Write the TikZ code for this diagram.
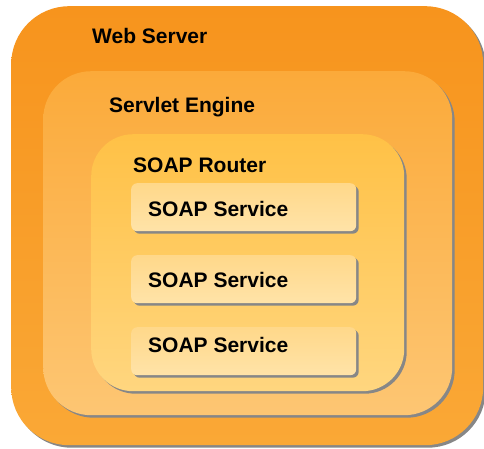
\documentclass[tikz,border=0pt]{standalone}
\usepackage{fontspec}
\setmainfont{Liberation Sans}
\usetikzlibrary{shadows}
\definecolor{webtop}{HTML}{F7941D}
\definecolor{webbot}{HTML}{FAA836}
\definecolor{enginetop}{HTML}{FBAA3A}
\definecolor{enginebot}{HTML}{FDC673}
\definecolor{routertop}{HTML}{FFC146}
\definecolor{routerbot}{HTML}{FFD67F}
\definecolor{servtop}{HTML}{FFD88A}
\definecolor{servbot}{HTML}{FFE3A8}
\definecolor{shadowgray}{HTML}{878787}
\tikzset{
  layer/.style={anchor=north west, inner sep=0pt,
    drop shadow={shadow xshift=2.5pt, shadow yshift=-2.5pt, fill=shadowgray, opacity=1}},
  title/.style={anchor=west, inner sep=0pt, font=\bfseries\fontsize{21}{25}\selectfont}
}
\begin{document}
\begin{tikzpicture}[x=1pt,y=-1pt]
	    \useasboundingbox (0,0) rectangle (484,448);
	    % nested layers
	    \node[layer, top color=webtop, bottom color=webbot, rounded corners=58pt,
	      minimum width=472pt, minimum height=439pt] (web) at (11,6) {};
	    \node[layer, top color=enginetop, bottom color=enginebot, rounded corners=48pt,
	      minimum width=409pt, minimum height=344pt] (engine) at (43,71) {};
	    \node[layer, top color=routertop, bottom color=routerbot, rounded corners=42pt,
	      minimum width=313pt, minimum height=257pt] (router) at (91,134) {};
	    \foreach \i/\y in {1/183,2/255,3/327}
	      \node[layer, top color=servtop, bottom color=servbot, rounded corners=6pt,
	        minimum width=225pt, minimum height=48pt] (serv\i) at (131,\y) {};
	    % titles
	    \node[title] (webtitle) at (92,36) {Web Server};
	    \node[title] (enginetitle) at (109,107) {Servlet Engine};
	    \node[title] (routertitle) at (133,165) {SOAP Router};
	    \foreach \i/\y in {1/209,2/280,3/345}
	      \node[title] (servtitle\i) at (148,\y) {SOAP Service};
\end{tikzpicture}
\end{document}
